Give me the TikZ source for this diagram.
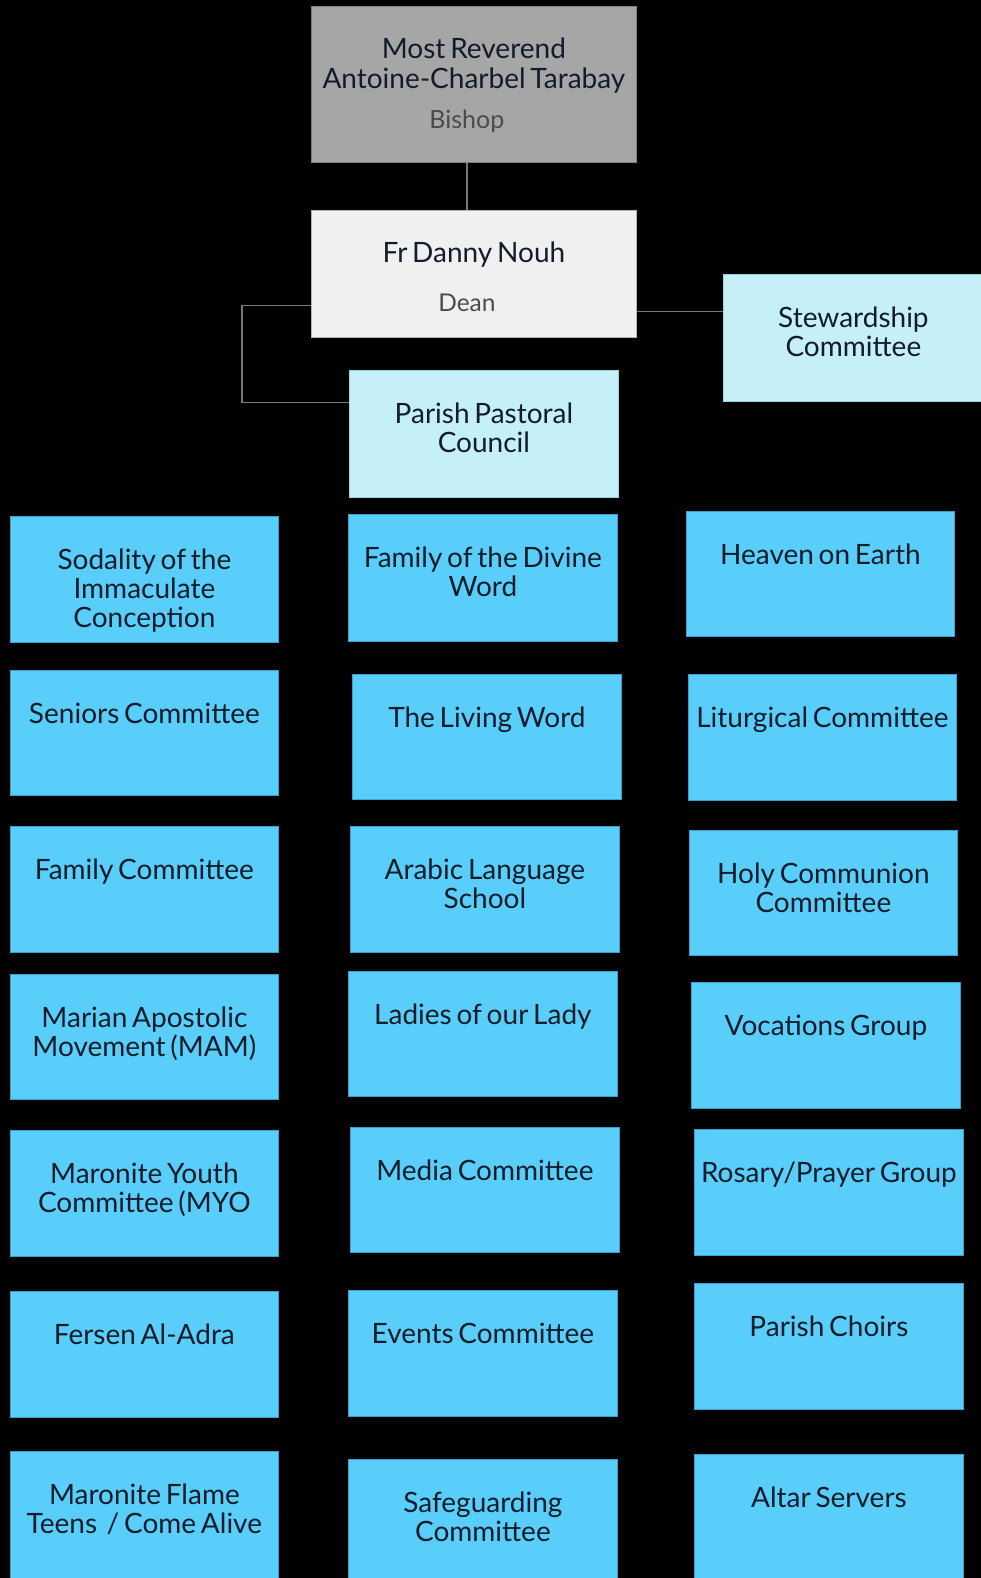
\documentclass[tikz,border=0pt]{standalone}
\usepackage{fontspec}
\setmainfont{Lato}
\newcommand{\tightsp}{\spaceskip=0.17em plus 0.05em minus 0.02em\relax}
\newcommand{\gridfont}{\fontsize{28}{29.2}\selectfont\tightsp}
\newcommand{\headfont}{\fontsize{28}{29.5}\selectfont\tightsp}
\definecolor{gridblue}{RGB}{90,206,250}
\definecolor{gridedge}{RGB}{60,160,205}
\definecolor{paleblue}{RGB}{197,240,248}
\definecolor{paleedge}{RGB}{150,210,225}
\definecolor{bishopgray}{RGB}{166,166,166}
\definecolor{deanwhite}{RGB}{240,240,240}
\definecolor{labelink}{RGB}{18,28,42}
\definecolor{subink}{RGB}{75,75,75}
\definecolor{linkgray}{RGB}{120,120,120}
\begin{document}
\begin{tikzpicture}[x=1pt,y=-1pt,
  boxbase/.style={draw, line width=0.8pt, inner sep=0pt, anchor=north west},
  gbox/.style={boxbase, fill=gridblue, draw=gridedge},
  pbox/.style={boxbase, fill=paleblue, draw=paleedge},
  lbl/.style={anchor=north, align=center, inner sep=0pt, text=labelink, font=\gridfont},
  link/.style={draw=linkgray, line width=1.2pt}]
\fill[black] (0,0) rectangle (981,1578);
\useasboundingbox (0,0) rectangle (981,1578);
\newcommand{\orgbox}[7]{%
  \node[#2, minimum width=#5-#3, minimum height=#6-#4] (#1) at (#3,#4) {};
  \node[lbl] (#1-t) at ([yshift=-32.5pt]#1.north) {#7};}
% top nodes
\node[boxbase, fill=bishopgray, draw=gray, minimum width=325, minimum height=156] (bishop) at (311,6) {};
\node[anchor=north, align=center, inner sep=0pt, text=labelink, font=\headfont] (bishop-t) at ([yshift=-32pt]bishop.north) {Most Reverend\\Antoine-Charbel Tarabay};
\node[anchor=center, inner sep=0pt, text=subink, font=\fontsize{25}{28}\selectfont] (bishop-s) at ([xshift=-7pt,yshift=-115pt]bishop.north) {Bishop};
\node[boxbase, fill=deanwhite, draw=gray!60, minimum width=325, minimum height=127] (dean) at (311,210) {};
\node[anchor=center, inner sep=0pt, text=labelink, font=\headfont] (dean-t) at ([yshift=-45pt]dean.north) {Fr Danny Nouh};
\node[anchor=center, inner sep=0pt, text=subink, font=\fontsize{24.5}{28}\selectfont] (dean-s) at ([xshift=-7pt,yshift=-93pt]dean.north) {Dean};
\orgbox{stew}{pbox}{723}{274}{983}{401}{Stewardship\\Committee}
\orgbox{parish}{pbox}{349}{370}{618}{497}{Parish Pastoral\\Council}
% grid row 1
\orgbox{sod}{gbox}{10}{516}{278}{642}{Sodality of the\\Immaculate\\Conception}
\orgbox{fdw}{gbox}{348}{514}{617}{641}{Family of the Divine\\Word}
\orgbox{hoe}{gbox}{686}{511}{954}{636}{Heaven on Earth}
% row 2
\orgbox{sen}{gbox}{10}{670}{278}{795}{Seniors Committee}
\orgbox{tlw}{gbox}{352}{674}{621}{799}{The Living Word}
\orgbox{lit}{gbox}{688}{674}{956}{800}{Liturgical Committee}
% row 3
\orgbox{fam}{gbox}{10}{826}{278}{952}{Family Committee}
\orgbox{ara}{gbox}{350}{826}{619}{952}{Arabic Language\\School}
\orgbox{hol}{gbox}{689}{830}{957}{955}{Holy Communion\\Committee}
% row 4
\orgbox{mam}{gbox}{10}{974}{278}{1099}{Marian Apostolic\\Movement (MAM)}
\orgbox{lad}{gbox}{348}{971}{617}{1096}{Ladies of our Lady}
\orgbox{voc}{gbox}{691}{982}{960}{1108}{Vocations Group}
% row 5
\orgbox{myo}{gbox}{10}{1130}{278}{1256}{Maronite Youth\\Committee (MYO}
\orgbox{med}{gbox}{350}{1127}{619}{1252}{Media Committee}
\orgbox{ros}{gbox}{694}{1129}{963}{1255}{Rosary/Prayer Group}
% row 6
\orgbox{fer}{gbox}{10}{1291}{278}{1417}{Fersen Al-Adra}
\orgbox{evt}{gbox}{348}{1290}{617}{1416}{Events Committee}
\orgbox{cho}{gbox}{694}{1283}{963}{1409}{Parish Choirs}
% row 7
\orgbox{mft}{gbox}{10}{1451}{278}{1580}{Maronite Flame\\Teens~~/ Come Alive}
\orgbox{saf}{gbox}{348}{1459}{617}{1580}{Safeguarding\\Committee}
\orgbox{alt}{gbox}{694}{1454}{963}{1580}{Altar Servers}
% connectors
\draw[link] ([xshift=-7pt]bishop.south) -- ([xshift=-7pt]dean.north);
\draw[link] ([yshift=-31.5pt]dean.west) -- ++(-69,0) |- ([yshift=31.5pt]parish.west);
\draw[link] ([yshift=-37.5pt]dean.east) -- ([yshift=26.5pt]stew.west);
\end{tikzpicture}
\end{document}
